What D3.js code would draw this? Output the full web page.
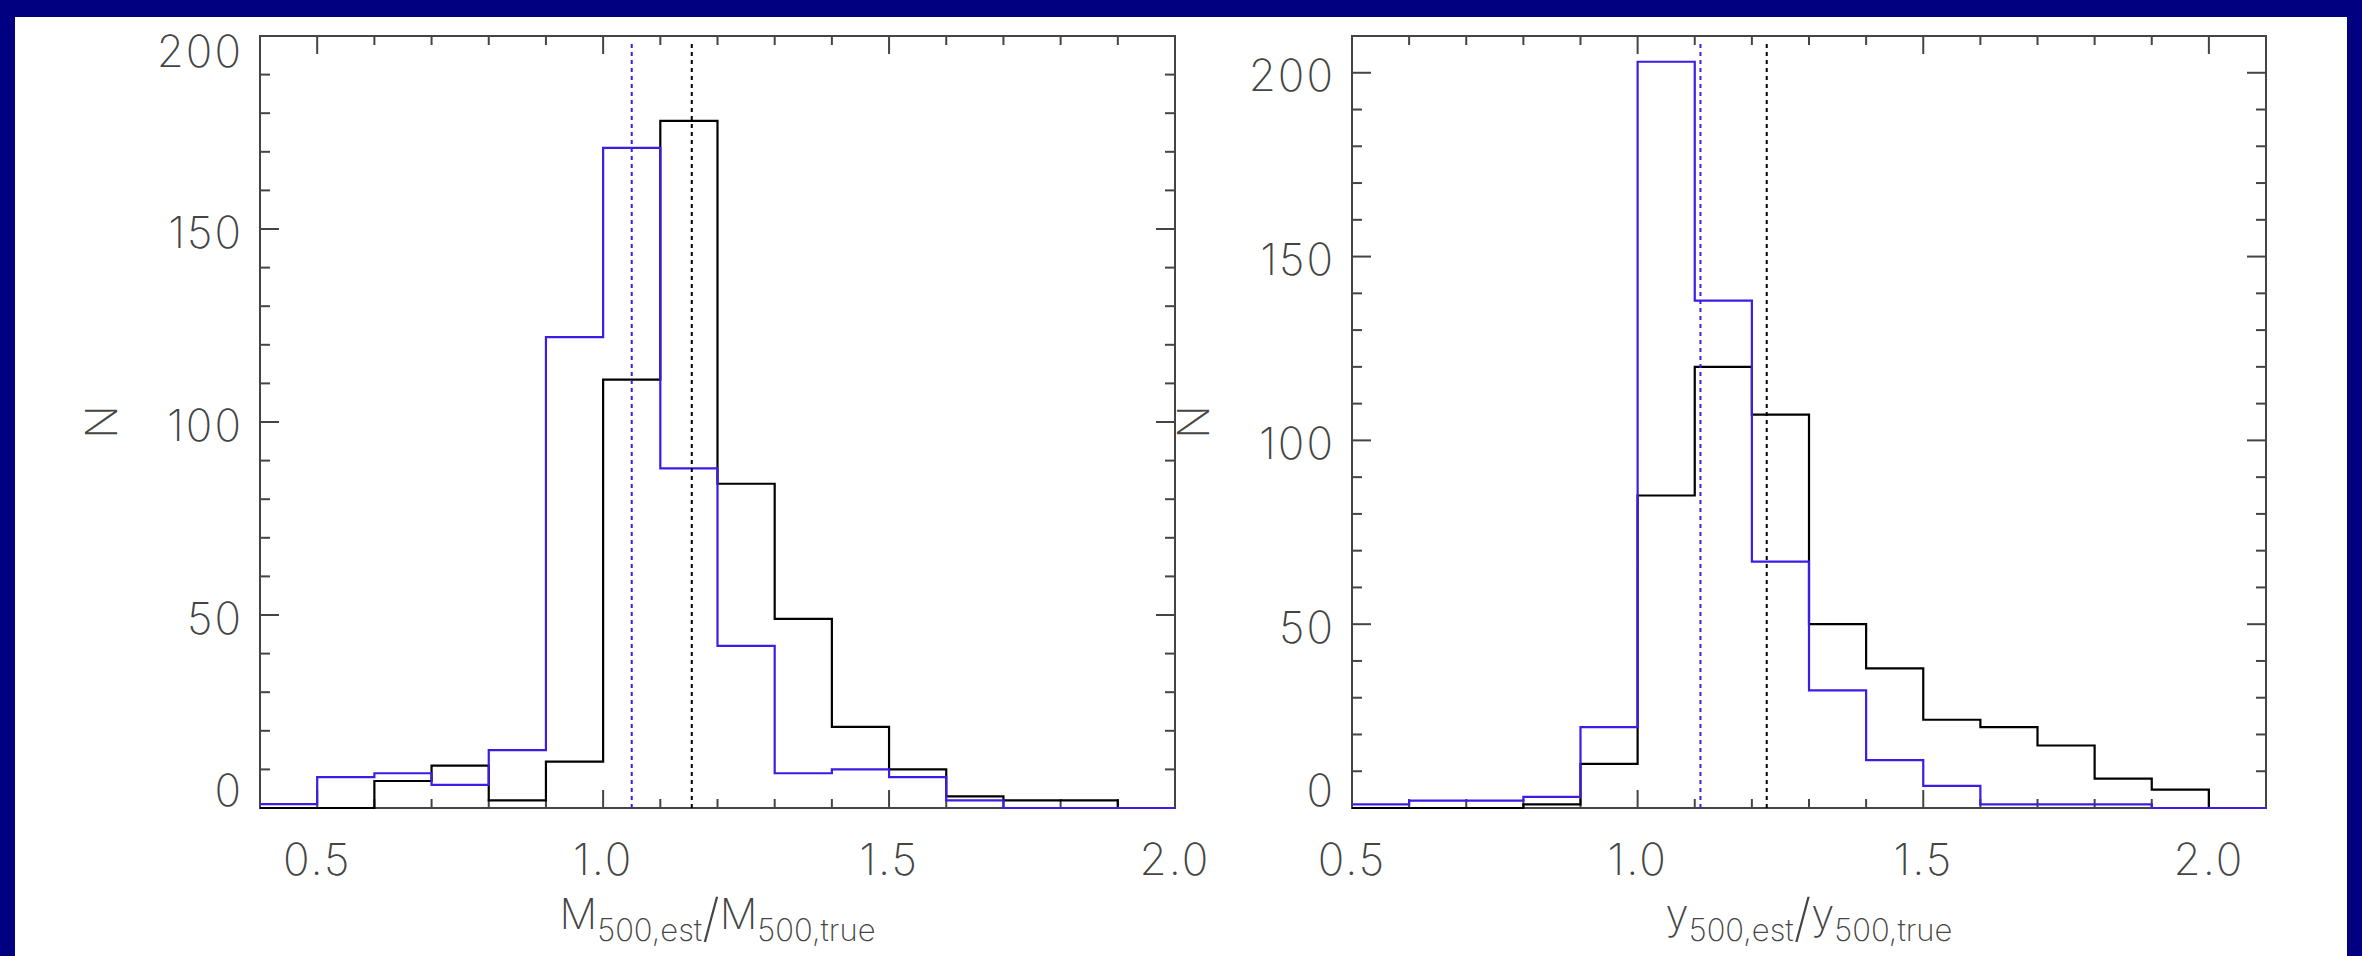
<!DOCTYPE html>
<html>
<head>
<meta charset="utf-8">
<script src="https://cdn.jsdelivr.net/npm/d3@7"></script>
<style>
  html, body { margin: 0; padding: 0; background: #000080; }
  svg { display: block; }
  .lbl { font-family: "Inter", "Open Sans", sans-serif; font-weight: 200; fill: #444; }
</style>
</head>
<body>
<div id="chart"></div>
<script>
// Left panel: M500,est / M500,true
const massEdges = [0.4, 0.5, 0.6, 0.7, 0.8, 0.9, 1.0, 1.1, 1.2, 1.3, 1.4, 1.5, 1.6, 1.7, 1.8, 1.9, 2.0];
const massBlack = [0, 0, 7, 11, 2, 12, 111, 178, 84, 49, 21, 10, 3, 2, 2, 0];
const massBlue  = [1, 8, 9, 6, 15, 122, 171, 88, 42, 9, 10, 8, 2, 0, 0, 0];
const massMedians = { black: 1.155, blue: 1.05 };

// Right panel: y500,est / y500,true
const yEdges = [0.5, 0.6, 0.7, 0.8, 0.9, 1.0, 1.1, 1.2, 1.3, 1.4, 1.5, 1.6, 1.7, 1.8, 1.9, 2.0, 2.1];
const yBlack = [0, 0, 0, 1, 12, 85, 120, 107, 50, 38, 24, 22, 17, 8, 5, 0];
const yBlue  = [1, 2, 2, 3, 22, 203, 138, 67, 32, 13, 6, 1, 1, 1, 0, 0];
const yMedians = { black: 1.226, blue: 1.11 };

// Tick labels
const xTickLabels = ["0.5", "1.0", "1.5", "2.0"];
const yTickLabels = [0, 50, 100, 150, 200];

const W = 2362, H = 956;
const BLUE = "#3b1de6";

const svg = d3.select("#chart").append("svg")
    .attr("width", W)
    .attr("height", H);

// navy slide border, white plot area
svg.append("rect").attr("width", W).attr("height", H).attr("fill", "#000080");
svg.append("rect")
    .attr("x", 15).attr("y", 17)
    .attr("width", W - 30).attr("height", H - 17)
    .attr("fill", "#fff");

function drawPanel(opts) {
    const { left, right, top, bottom, xDomain, yDomain, edges, black, blue, medians, xName } = opts;

    const x = d3.scaleLinear().domain(xDomain).range([left, right]);
    const y = d3.scaleLinear().domain(yDomain).range([bottom, top]);
    const g = svg.append("g");

    // Frame
    g.append("rect")
        .attr("x", left).attr("y", top)
        .attr("width", right - left).attr("height", bottom - top)
        .attr("fill", "none")
        .attr("stroke", "#444")
        .attr("stroke-width", 2);

    // IDL-style inward ticks on all four sides
    const xMinor = d3.range(Math.round(xDomain[0] * 10), Math.round(xDomain[1] * 10) + 1).map(d => d / 10);
    const xMajor = xTickLabels.map(Number);
    const yMinor = d3.range(yDomain[0], yDomain[1] + 1, 10);
    const ticks = g.append("g").attr("stroke", "#444").attr("stroke-width", 2);

    xMinor.forEach(v => {
        const len = xMajor.some(m => Math.abs(m - v) < 1e-6) ? 18 : 9;
        ticks.append("line").attr("x1", x(v)).attr("x2", x(v)).attr("y1", bottom).attr("y2", bottom - len);
        ticks.append("line").attr("x1", x(v)).attr("x2", x(v)).attr("y1", top).attr("y2", top + len);
    });
    yMinor.forEach(v => {
        const len = v % 50 === 0 ? 19 : 10;
        ticks.append("line").attr("x1", left).attr("x2", left + len).attr("y1", y(v)).attr("y2", y(v));
        ticks.append("line").attr("x1", right).attr("x2", right - len).attr("y1", y(v)).attr("y2", y(v));
    });

    // Histogram steps (value per bin, plus closing point at last edge)
    const stepLine = d3.line()
        .x(d => x(d.x))
        .y(d => y(d.v))
        .curve(d3.curveStepAfter);
    const toSteps = vals => vals.map((v, i) => ({ x: edges[i], v }))
        .concat([{ x: edges[edges.length - 1], v: vals[vals.length - 1] }]);

    g.append("path")
        .datum(toSteps(black))
        .attr("d", stepLine)
        .attr("fill", "none")
        .attr("stroke", "#000")
        .attr("stroke-width", 2.2);

    g.append("path")
        .datum(toSteps(blue))
        .attr("d", stepLine)
        .attr("fill", "none")
        .attr("stroke", BLUE)
        .attr("stroke-width", 2.2);

    // Median lines, dotted
    [["blue", BLUE], ["black", "#000"]].forEach(([k, c]) => {
        g.append("line")
            .attr("x1", x(medians[k])).attr("x2", x(medians[k]))
            .attr("y1", bottom).attr("y2", top + 5)
            .attr("stroke", c)
            .attr("stroke-width", 2)
            .attr("stroke-dasharray", "4,4");
    });

    // Tick labels
    g.selectAll(".xlab")
        .data(xTickLabels)
        .enter().append("text")
        .attr("class", "lbl")
        .attr("x", d => x(+d))
        .attr("y", 875)
        .attr("text-anchor", "middle")
        .style("font-size", "44px")
        .style("letter-spacing", "2px")
        .text(d => d);

    g.selectAll(".ylab")
        .data(yTickLabels.filter(v => v <= yDomain[1]))
        .enter().append("text")
        .attr("class", "lbl")
        .attr("x", left - 17)
        .attr("y", d => Math.min(bottom - 2, Math.max(y(d) + 18.5, top + 31)))
        .attr("text-anchor", "end")
        .style("font-size", "44px")
        .style("letter-spacing", "2px")
        .text(d => d);

    // Y axis title "N"
    svg.append("text")
        .attr("class", "lbl")
        .attr("transform", `translate(${left - 143},422) rotate(-90)`)
        .attr("text-anchor", "middle")
        .style("font-size", "44px")
        .text("N");

    // X axis title with subscripts
    const t = svg.append("text")
        .attr("class", "lbl")
        .attr("x", (left + right) / 2)
        .attr("y", 929)
        .attr("text-anchor", "middle")
        .style("font-size", "42px");
    t.append("tspan").text(xName);
    t.append("tspan").attr("dy", 12).style("font-size", "31px").text("500,est");
    t.append("tspan").attr("dy", -5).style("font-size", "52px").text("/");
    t.append("tspan").attr("dy", -7).text(xName);
    t.append("tspan").attr("dy", 12).style("font-size", "31px").text("500,true");
}

drawPanel({
    left: 260, right: 1175, top: 36, bottom: 808,
    xDomain: [0.4, 2.0], yDomain: [0, 200],
    edges: massEdges, black: massBlack, blue: massBlue,
    medians: massMedians, xName: "M"
});

drawPanel({
    left: 1352, right: 2266, top: 36, bottom: 808,
    xDomain: [0.5, 2.1], yDomain: [0, 210],
    edges: yEdges, black: yBlack, blue: yBlue,
    medians: yMedians, xName: "y"
});
</script>
</body>
</html>
